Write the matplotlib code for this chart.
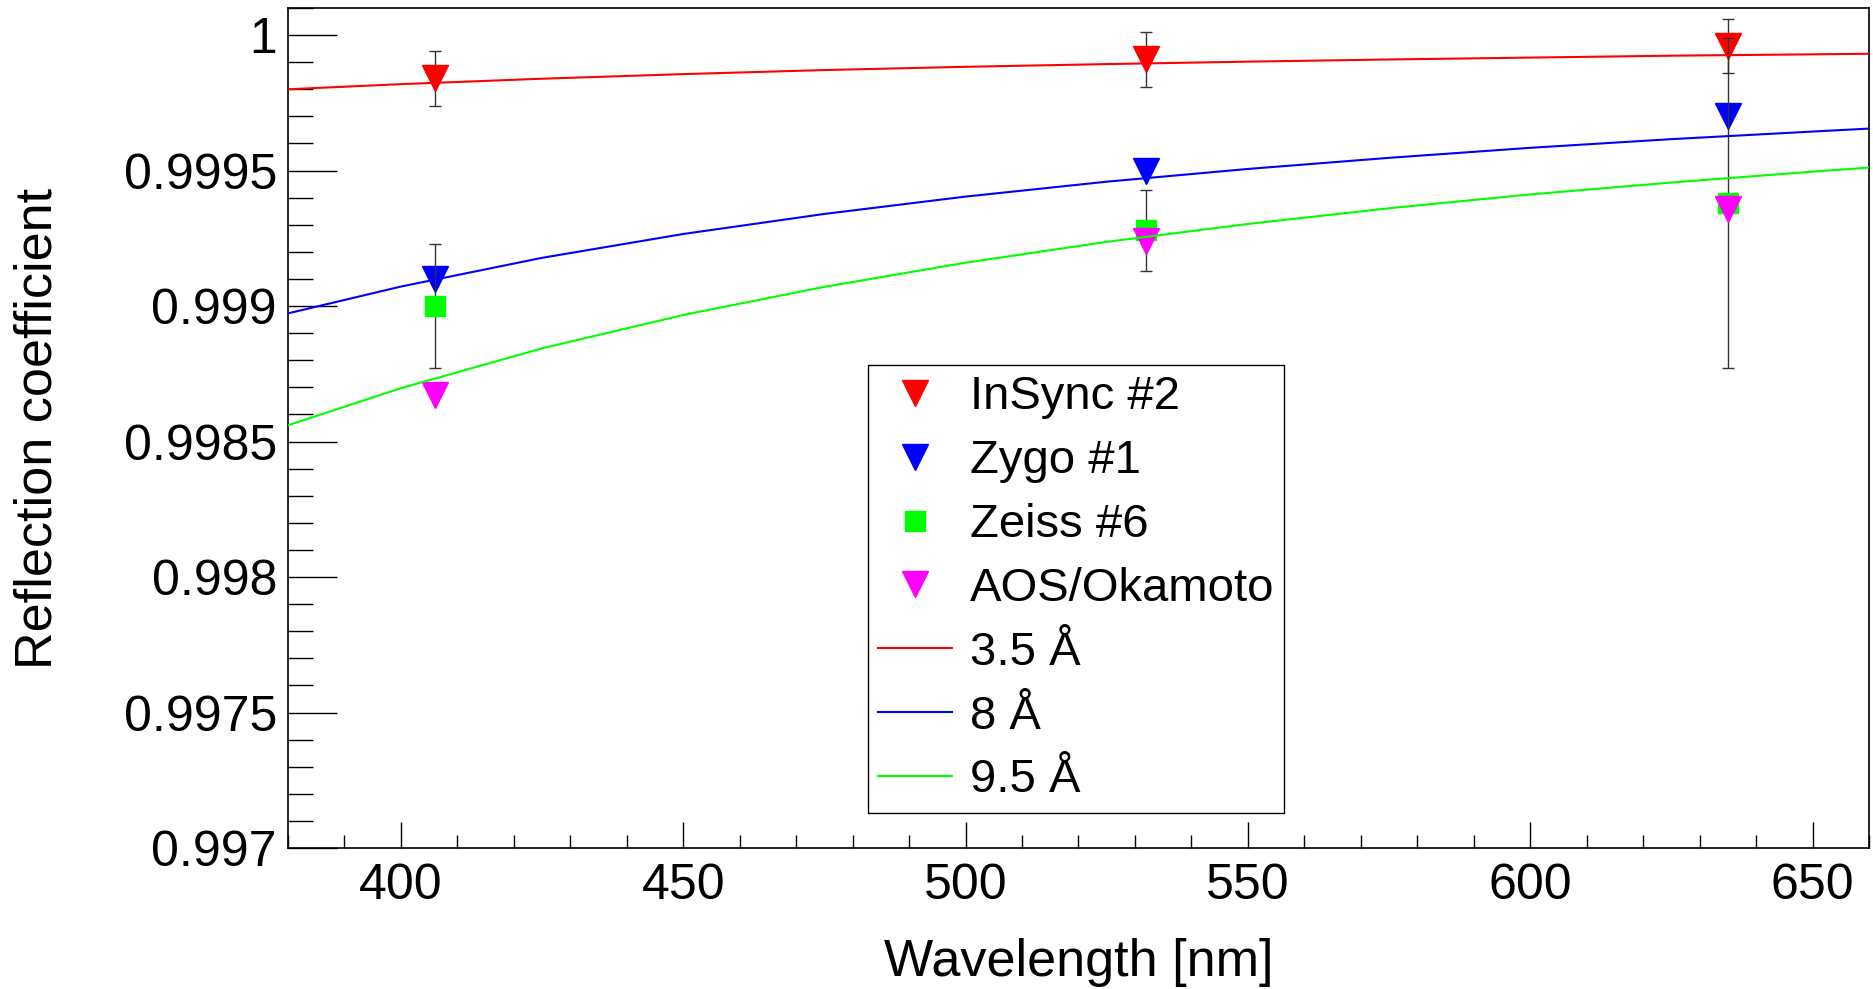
import matplotlib
matplotlib.use('Agg')
import matplotlib.pyplot as plt
from matplotlib.ticker import MultipleLocator, FormatStrFormatter

plt.rcParams['font.family'] = ['Liberation Sans', 'DejaVu Sans']

# Measured points (wavelength in nm)
wl_points = [406, 532, 635]
insync = [0.99984, 0.99991, 0.99996]
insync_err = [0.0001, 0.0001, 0.0001]
zygo = [0.99910, 0.99950, 0.99970]
zeiss = [0.99900, 0.99928, 0.99938]
zeiss_err = [0.00023, 0.00015, 0.00061]
aos = [0.99867, 0.99924, 0.99936]

# Model curves
wl_curve = [380, 400, 425, 450, 475, 500, 525, 550, 575, 600, 625, 650, 660]
r_35 = [0.99980, 0.999819, 0.999839, 0.999856, 0.999871, 0.999883, 0.999893,
        0.999902, 0.999910, 0.999917, 0.999924, 0.999929, 0.999931]
r_8 = [0.998973, 0.999072, 0.999178, 0.999266, 0.999340, 0.999404, 0.999459,
       0.999506, 0.999547, 0.999584, 0.999616, 0.999644, 0.999655]
r_95 = [0.998560, 0.998697, 0.998844, 0.998967, 0.999071, 0.999160, 0.999237,
        0.999303, 0.999361, 0.999412, 0.999456, 0.999496, 0.999511]

fig = plt.figure(figsize=(18.73, 9.89), dpi=100)
ax = fig.add_axes([288 / 1873, 141 / 989, (1869 - 288) / 1873, (848 - 8) / 989])

ax.errorbar(wl_points, insync, yerr=insync_err, fmt='none', ecolor='0.2',
            elinewidth=1.0, capsize=4, capthick=1.0, zorder=2)
h1, = ax.plot(wl_points, insync, 'v', color='#ff0000', ms=19, ls='none',
              label='InSync #2', zorder=2.1)
h2, = ax.plot(wl_points, zygo, 'v', color='#0000ff', ms=19, ls='none',
              label='Zygo #1', zorder=2.2)
ax.errorbar(wl_points, zeiss, yerr=zeiss_err, fmt='none', ecolor='0.2',
            elinewidth=1.0, capsize=4, capthick=1.0, zorder=2.3)
h3, = ax.plot(wl_points, zeiss, 's', color='#00ff00', ms=15, ls='none',
              label='Zeiss #6', zorder=2.4)
h4, = ax.plot(wl_points, aos, 'v', color='#ff00ff', ms=19, ls='none',
              label='AOS/Okamoto', zorder=2.5)

h5, = ax.plot(wl_curve, r_35, color='#ff0000', lw=1.5, label='3.5 Å', zorder=3)
h6, = ax.plot(wl_curve, r_8, color='#0000ff', lw=1.5, label='8 Å', zorder=3)
h7, = ax.plot(wl_curve, r_95, color='#00ff00', lw=1.5, label='9.5 Å', zorder=3)

ax.set_xlim(380, 660)
ax.set_ylim(0.997, 1.0001)

ax.xaxis.set_major_locator(MultipleLocator(50))
ax.xaxis.set_minor_locator(MultipleLocator(10))
ax.yaxis.set_major_locator(MultipleLocator(0.0005))
ax.yaxis.set_minor_locator(MultipleLocator(0.0001))
ax.yaxis.set_major_formatter(FormatStrFormatter('%g'))

ax.tick_params(axis='both', which='both', direction='in', top=False, right=False,
               labelsize=36, width=1.0)
ax.tick_params(axis='x', which='major', length=19, pad=11)
ax.tick_params(axis='x', which='minor', length=9.5)
ax.tick_params(axis='y', which='major', length=35, pad=8)
ax.tick_params(axis='y', which='minor', length=18)

for sp in ax.spines.values():
    sp.set_linewidth(1.2)

ax.set_xlabel('Wavelength [nm]', fontsize=37.5, labelpad=21)
ax.set_ylabel('Reflection coefficient', fontsize=37.5, labelpad=44)

leg = ax.legend(handles=[h1, h2, h3, h4, h5, h6, h7], loc='upper left',
                bbox_to_anchor=(868 / 1873, 1 - 365 / 989),
                bbox_transform=fig.transFigure, borderaxespad=0,
                fontsize=34, frameon=True, fancybox=False, framealpha=1,
                edgecolor='black', borderpad=0.22, labelspacing=0.42,
                handlelength=1.55, handletextpad=0.38)
leg.get_frame().set_linewidth(1.0)

fig.savefig('out.png', dpi=100)
